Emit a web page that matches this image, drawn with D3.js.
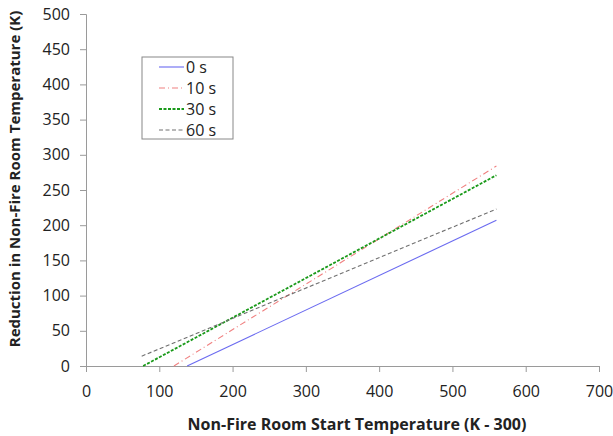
<!DOCTYPE html>
<html lang="en">
<head>
  <meta charset="UTF-8">
  <title>Reduction in Non-Fire Room Temperature</title>
  <script src="https://d3js.org/d3.v7.min.js"></script>
  <style>
    body { margin: 0; background: #fff; }
    text { font-family: "Open Sans", "DejaVu Sans", sans-serif; }
  </style>
</head>
<body>
<div id="chart"></div>
<script>
  // Series: [start temperature, reduction]
  const seriesNames = ["0 s", "10 s", "30 s", "60 s"];
  const startTemps = [
    [138, 560],
    [120, 560],
    [78, 560],
    [76, 560]
  ];
  const reductions = [
    [0, 207],
    [0, 284],
    [0, 271],
    [14, 223]
  ];
  const xTicks = [0, 100, 200, 300, 400, 500, 600, 700];
  const yTicks = [0, 50, 100, 150, 200, 250, 300, 350, 400, 450, 500];

  const colors = ["#6b6bf0", "#f08080", "#1a9a1a", "#707070"];
  const dashes = [null, "6,3,1,3", "3,1.5", "4,2.5"];
  const widths = [1.1, 1.1, 1.8, 1.1];

  const W = 613, H = 436;
  const margin = { top: 14, right: 14, bottom: 70, left: 86 };
  const width = W - margin.left - margin.right;
  const height = H - margin.top - margin.bottom;

  const svg = d3.select("#chart")
    .append("svg")
    .attr("width", W)
    .attr("height", H);

  const g = svg.append("g")
    .attr("transform", `translate(${margin.left},${margin.top})`);

  const xScale = d3.scaleLinear().domain([0, 700]).range([0, width]);
  const yScale = d3.scaleLinear().domain([0, 500]).range([height, 0]);

  // Axes
  const xAxis = g.append("g")
    .attr("transform", `translate(0,${height})`)
    .call(d3.axisBottom(xScale).tickValues(xTicks).tickSize(6).tickPadding(14));
  const yAxis = g.append("g")
    .call(d3.axisLeft(yScale).tickValues(yTicks).tickSize(6).tickPadding(10));

  [xAxis, yAxis].forEach(a => {
    a.selectAll("path, line").attr("stroke", "#9a9a9a");
    a.selectAll("text")
      .attr("fill", "#222")
      .style("font-size", "16px");
  });

  // Lines
  const line = d3.line()
    .x(d => xScale(d[0]))
    .y(d => yScale(d[1]));

  seriesNames.forEach((name, i) => {
    const pts = startTemps[i].map((t, j) => [t, reductions[i][j]]);
    g.append("path")
      .datum(pts)
      .attr("fill", "none")
      .attr("stroke", colors[i])
      .attr("stroke-width", widths[i])
      .attr("stroke-dasharray", dashes[i])
      .attr("d", line);
  });

  // Legend
  const legend = svg.append("g").attr("transform", "translate(142,57)");
  legend.append("rect")
    .attr("width", 91)
    .attr("height", 82)
    .attr("fill", "#fff")
    .attr("stroke", "#888")
    .attr("stroke-width", 1);

  seriesNames.forEach((name, i) => {
    const y = 10 + i * 21;
    legend.append("line")
      .attr("x1", 17).attr("x2", 42)
      .attr("y1", y).attr("y2", y)
      .attr("stroke", colors[i])
      .attr("stroke-width", widths[i])
      .attr("stroke-dasharray", dashes[i]);
    legend.append("text")
      .attr("x", 44)
      .attr("y", y)
      .attr("dy", "0.36em")
      .style("font-size", "16px")
      .attr("fill", "#222")
      .text(name);
  });

  // Axis titles
  svg.append("text")
    .attr("x", 357)
    .attr("y", 430)
    .attr("text-anchor", "middle")
    .style("font-size", "16px")
    .style("font-weight", "bold")
    .attr("fill", "#222")
    .text("Non-Fire Room Start Temperature (K - 300)");

  svg.append("text")
    .attr("transform", "translate(20,179) rotate(-90)")
    .attr("text-anchor", "middle")
    .style("font-size", "15px")
    .style("font-weight", "bold")
    .attr("fill", "#222")
    .text("Reduction in Non-Fire Room Temperature (K)");
</script>
</body>
</html>
